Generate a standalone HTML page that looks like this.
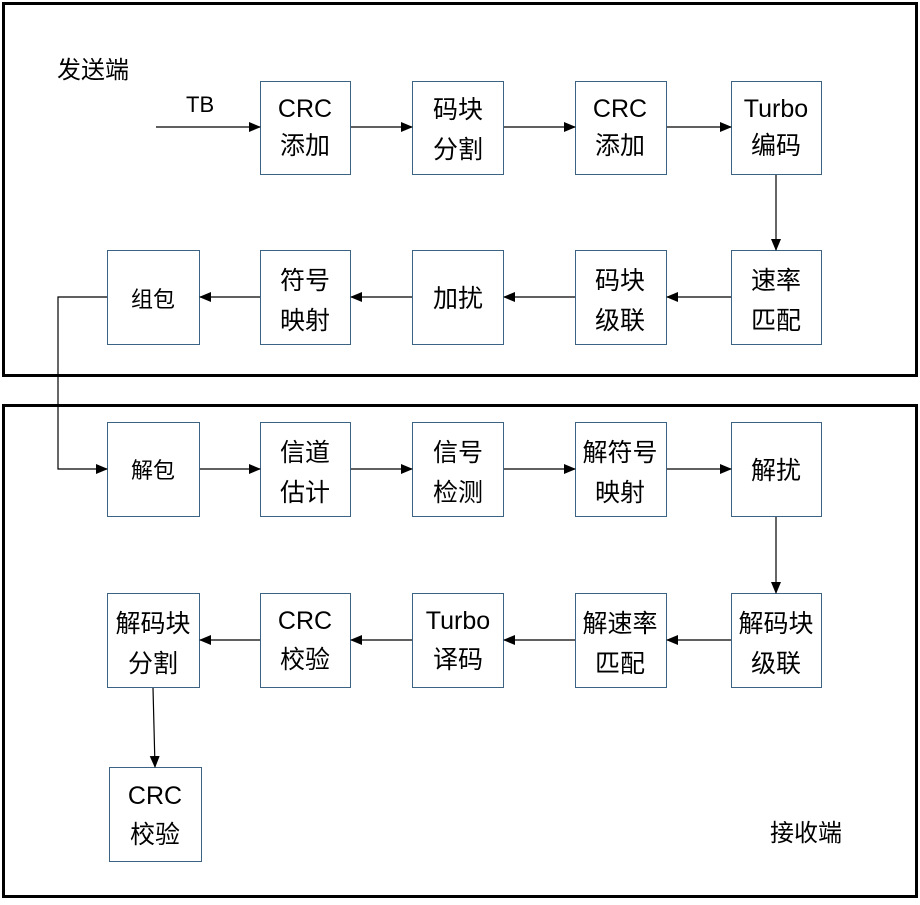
<!DOCTYPE html>
<html><head><meta charset="utf-8"><style>
body{margin:0;background:#fff;width:920px;height:900px;overflow:hidden}
text{font-family:"Liberation Sans","Noto Sans CJK SC",sans-serif;fill:#000}
</style></head><body>
<svg width="920" height="900" xmlns="http://www.w3.org/2000/svg">
<defs><marker id="a" markerWidth="12" markerHeight="10" refX="11" refY="5" orient="auto" markerUnits="userSpaceOnUse"><path d="M0,0 L12,5 L0,10 z" fill="#000"/></marker></defs>
<rect x="3.5" y="3.5" width="913" height="372" fill="none" stroke="#000" stroke-width="3"/>
<rect x="3.5" y="405.5" width="913" height="491" fill="none" stroke="#000" stroke-width="3"/>
<g fill="#fff" stroke="#3c6384" stroke-width="1">
<rect x="260.5" y="81.5" width="90" height="93"/><rect x="412.5" y="81.5" width="91" height="93"/><rect x="575.5" y="81.5" width="91" height="93"/><rect x="731.5" y="81.5" width="90" height="93"/>
<rect x="107.5" y="250.5" width="92" height="94"/><rect x="260.5" y="250.5" width="90" height="94"/><rect x="412.5" y="250.5" width="91" height="94"/><rect x="575.5" y="250.5" width="91" height="94"/><rect x="731.5" y="250.5" width="90" height="94"/>
<rect x="107.5" y="422.5" width="92" height="94"/><rect x="260.5" y="422.5" width="90" height="94"/><rect x="412.5" y="422.5" width="91" height="94"/><rect x="575.5" y="422.5" width="91" height="94"/><rect x="731.5" y="422.5" width="90" height="94"/>
<rect x="107.5" y="593.5" width="92" height="94"/><rect x="260.5" y="593.5" width="90" height="94"/><rect x="412.5" y="593.5" width="91" height="94"/><rect x="575.5" y="593.5" width="91" height="94"/><rect x="731.5" y="593.5" width="90" height="94"/>
<rect x="109.5" y="767.5" width="92" height="94"/>
</g>
<g stroke="#000" stroke-width="1.2" fill="none" marker-end="url(#a)">
<line x1="156" y1="127" x2="260" y2="127"/><line x1="351" y1="127" x2="412" y2="127"/><line x1="504" y1="127" x2="575" y2="127"/><line x1="667" y1="127" x2="731" y2="127"/>
<line x1="776" y1="175" x2="776" y2="250"/>
<line x1="731" y1="297" x2="667" y2="297"/><line x1="575" y1="297" x2="504" y2="297"/><line x1="412" y1="297" x2="351" y2="297"/><line x1="260" y1="297" x2="200" y2="297"/>
<polyline points="107,297 58,297 58,469 107,469"/>
<line x1="200" y1="469" x2="260" y2="469"/><line x1="351" y1="469" x2="412" y2="469"/><line x1="504" y1="469" x2="575" y2="469"/><line x1="667" y1="469" x2="731" y2="469"/>
<line x1="776" y1="517" x2="776" y2="593"/>
<line x1="731" y1="640" x2="667" y2="640"/><line x1="575" y1="640" x2="504" y2="640"/><line x1="412" y1="640" x2="351" y2="640"/><line x1="260" y1="640" x2="200" y2="640"/>
<line x1="153" y1="688" x2="155" y2="767"/>
</g>
<g font-size="25" text-anchor="middle">
<text x="305" y="117">CRC</text><text x="305" y="154">添加</text>
<text x="458" y="118">码块</text><text x="458" y="158">分割</text>
<text x="620" y="117">CRC</text><text x="620" y="154">添加</text>
<text x="776" y="117">Turbo</text><text x="776" y="154">编码</text>
<text x="305" y="289">符号</text><text x="305" y="329">映射</text>
<text x="458" y="307">加扰</text>
<text x="620" y="289">码块</text><text x="620" y="329">级联</text>
<text x="776" y="289">速率</text><text x="776" y="329">匹配</text>
<text x="305" y="461">信道</text><text x="305" y="501">估计</text>
<text x="458" y="461">信号</text><text x="458" y="501">检测</text>
<text x="620" y="461">解符号</text><text x="620" y="501">映射</text>
<text x="776" y="479">解扰</text>
<text x="153" y="632">解码块</text><text x="153" y="672">分割</text>
<text x="305" y="629">CRC</text><text x="305" y="668">校验</text>
<text x="458" y="629">Turbo</text><text x="458" y="668">译码</text>
<text x="620" y="632">解速率</text><text x="620" y="672">匹配</text>
<text x="776" y="632">解码块</text><text x="776" y="672">级联</text>
<text x="155" y="804">CRC</text><text x="155" y="843">校验</text>
</g>
<g font-size="22" text-anchor="middle">
<text x="153" y="307">组包</text><text x="153" y="478">解包</text>
</g>
<text x="57" y="78" font-size="24">发送端</text>
<text x="770" y="841" font-size="24">接收端</text>
<text x="186" y="112" font-size="22">TB</text>
</svg>
</body></html>
